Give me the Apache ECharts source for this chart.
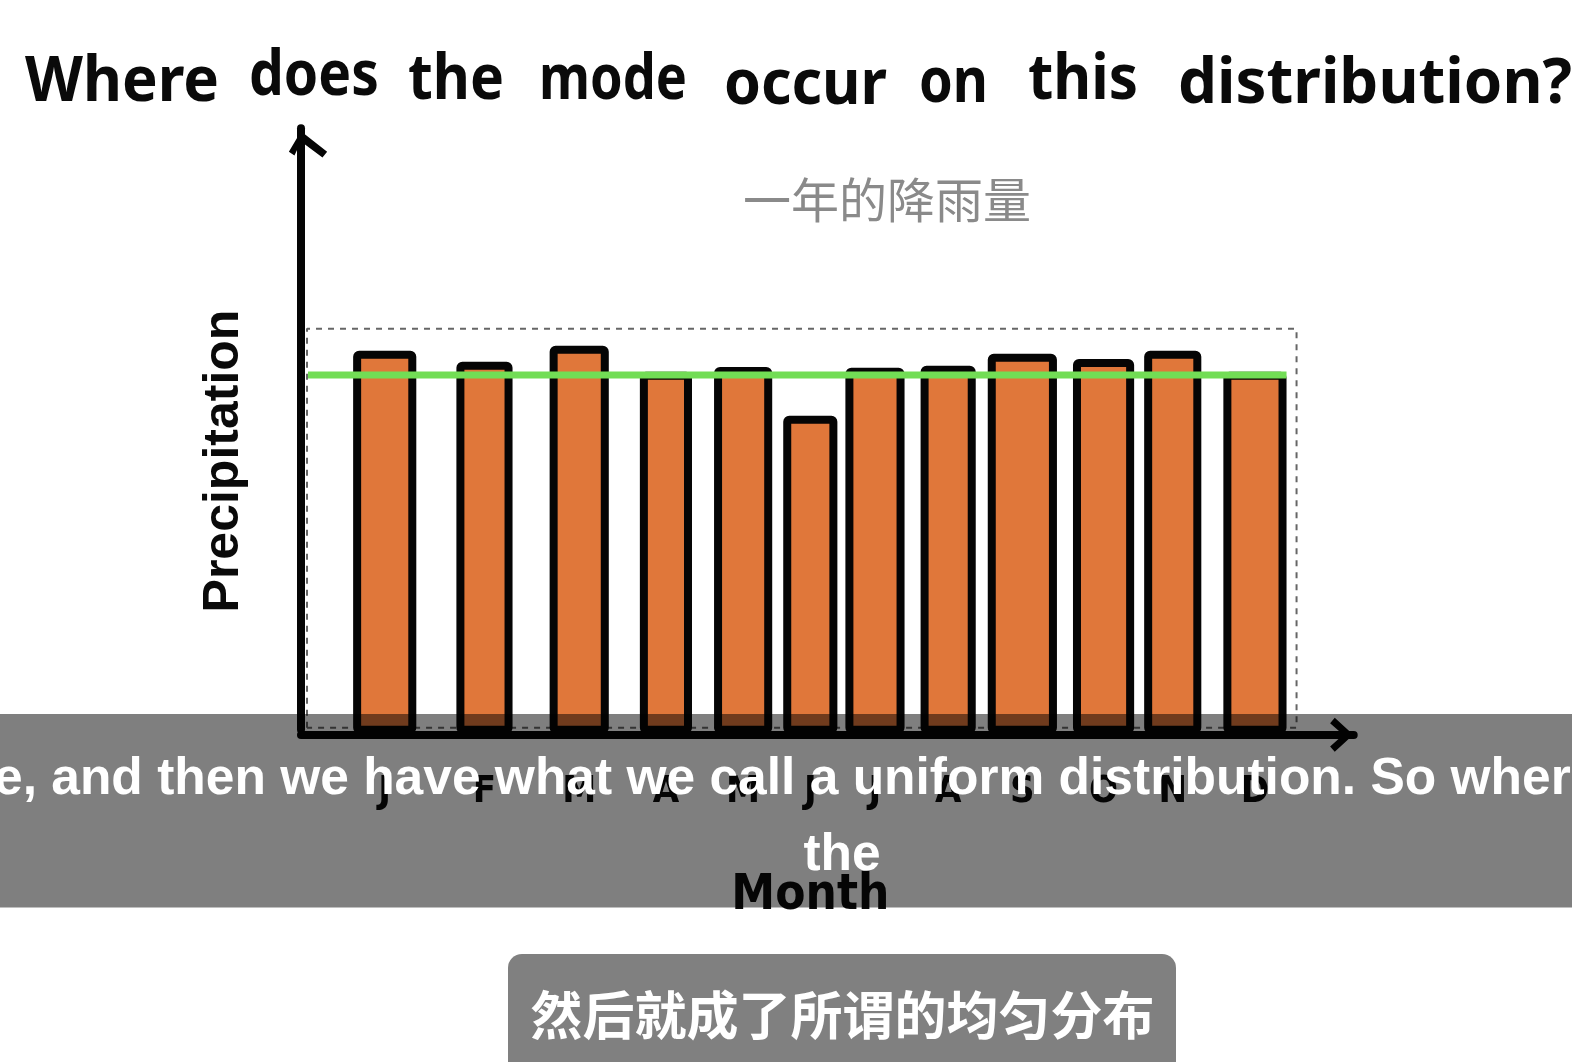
<!DOCTYPE html>
<html><head><meta charset="utf-8">
<style>html,body{margin:0;padding:0;background:#fff}#c{width:1572px;height:1062px}</style>
<script src="https://cdn.jsdelivr.net/npm/echarts@6/dist/echarts.min.js"></script>
</head><body><div id="c"></div>
<script>
const months = ['J','F','M','A','M','J','J','A','S','O','N','D'];
const barStart = [5.2,15.5,24.8,33.8,41.2,48.1,54.3,61.8,68.5,77,84.1,92];
const barEnd = [11.5,21.1,30.7,39,47,53.5,60.2,67.3,75.4,83.1,89.8,98.3];
const precipitation = [94.5,91.8,95.8,89.3,90.5,78.3,90.3,90.8,93.8,92.5,94.5,89.3];
const uniformLevel = 88.5;
const uniformFrom = 0.7;
const uniformTo = 98.3;
const boxLeft = 0.6, boxRight = 99.3, boxTop = 100, boxBottom = 0.5;
const chartTitle = '一年的降雨量';
const xName = 'Month';
const yName = 'Precipitation';
const headingWords = ['Where','does','the','mode','occur','on','this','distribution?'];
const captionLine1 = 'e, and then we have what we call a uniform distribution. So wher';
const captionLine2 = 'the';
const translation = '然后就成了所谓的均匀分布';

const chevronX = 'path://M0 24 L22 0 L44 24 L37 30 L22 13 L7 30 Z';
const chevronY = 'path://M0 30 L0 30 Z M15 22 L28 0 L56 22 L51 28 L28 11 L21 26 Z';
const ctx = document.createElement('canvas').getContext('2d');
const headFont = '700 62px "Noto Sans"';
function headWord(w, x0, x1, y){
  ctx.font = headFont;
  return {type:'text', x:x0, y:y, z:5, scaleX:(x1-x0)/ctx.measureText(w).width,
    style:{text:w, font:headFont, fill:'#0a0a0a', align:'left', verticalAlign:'middle'}};
}
const spans = [[25,219,83],[249,379,77],[408,504,81],[539,687,81],[724,887,86],[919,988,84],[1028,1138,81],[1178,1572,85]];

const chart = echarts.init(document.getElementById('c'), null, {renderer:'canvas'});
chart.setOption({
  animation:false,
  backgroundColor:'#ffffff',
  title:{text:chartTitle, left:882, top:165, textAlign:'center',
    textStyle:{fontFamily:'"Noto Sans CJK SC"', fontWeight:400, fontSize:48, color:'#8a8a8a', lineHeight:60}},
  grid:{left:301, top:128.3, width:1052.7, height:601.5, containLabel:false, outerBoundsMode:'none'},
  xAxis:{type:'value', min:0, max:105, offset:5, splitLine:{show:false}, axisTick:{show:false}, axisLabel:{show:false},
    name:xName, nameLocation:'middle', nameGap:137,
    nameTextStyle:{fontFamily:'"DejaVu Sans Condensed","DejaVu Sans"', fontWeight:'bold', fontSize:49, color:'#0a0a0a', padding:[0,34,0,0]},
    axisLine:{show:true, onZero:false, symbol:['none',chevronX], symbolSize:[34,28], symbolOffset:[0,-12],
      lineStyle:{color:'#050505', width:8, cap:'round'}}},
  yAxis:{type:'value', min:0, max:150, splitLine:{show:false}, axisTick:{show:false}, axisLabel:{show:false},
    name:yName, nameLocation:'middle', nameGap:52,
    nameTextStyle:{fontFamily:'"Liberation Sans"', fontWeight:'bold', fontSize:50, color:'#0a0a0a', padding:[0,64,0,0]},
    axisLine:{show:true, onZero:false, symbol:['none',chevronY], symbolSize:[56,28], symbolOffset:[0,-17],
      lineStyle:{color:'#050505', width:8, cap:'round'}}},
  series:[
    {type:'custom', coordinateSystem:'cartesian2d', clip:false, z:3,
      data:months.map((m,i)=>[barStart[i],barEnd[i],precipitation[i],m]),
      encode:{x:[0,1],y:2},
      renderItem(params,api){
        const a=api.coord([api.value(0),0]), b=api.coord([api.value(1),api.value(2)]);
        const sw=8;
        return {type:'group',children:[
          {type:'rect',shape:{x:a[0]+sw/2,y:b[1]+sw/2,width:b[0]-a[0]-sw,height:a[1]-b[1]-sw/2,r:2},
           style:{fill:'#e0773a',stroke:'#050505',lineWidth:sw,lineJoin:'round'}},
          {type:'text',style:{x:(a[0]+b[0])/2,y:a[1]+62,text:api.value(3),fill:'#0a0a0a',
            font:'bold 38px "DejaVu Sans Condensed"',align:'center',verticalAlign:'middle'}}
        ]};
      }},
    {type:'line', z:2, silent:true, symbol:'none',
      data:[[boxLeft,boxBottom],[boxLeft,boxTop],[boxRight,boxTop],[boxRight,boxBottom],[boxLeft,boxBottom]],
      lineStyle:{color:'#666666',width:2,type:[6,6]}},
    {type:'line', z:6, silent:true, symbol:'none',
      data:[[uniformFrom,uniformLevel],[uniformTo,uniformLevel]],
      lineStyle:{color:'#72dd55',width:7}}
  ],
  graphic:[
    ...headingWords.map((w,i)=>headWord(w,spans[i][0],spans[i][1],spans[i][2])),
    {type:'rect', z:50, shape:{x:0,y:714,width:1572,height:193.5}, style:{fill:'rgba(0,0,0,0.5)'}},
    {type:'text', z:51, x:-6, y:780, style:{text:captionLine1, font:'bold 51.5px "Liberation Sans"', fill:'#fff', align:'left', verticalAlign:'middle'}},
    {type:'text', z:51, x:842, y:856, style:{text:captionLine2, font:'bold 51.5px "Liberation Sans"', fill:'#fff', align:'center', verticalAlign:'middle'}},
    {type:'rect', z:52, shape:{x:508,y:954,width:668,height:125,r:14}, style:{fill:'#808080'}},
    {type:'text', z:53, x:842.5, y:1015, style:{text:translation, font:'bold 52px "Noto Sans CJK SC"', fill:'#fff', align:'center', verticalAlign:'middle'}}
  ]
});
</script></body></html>
